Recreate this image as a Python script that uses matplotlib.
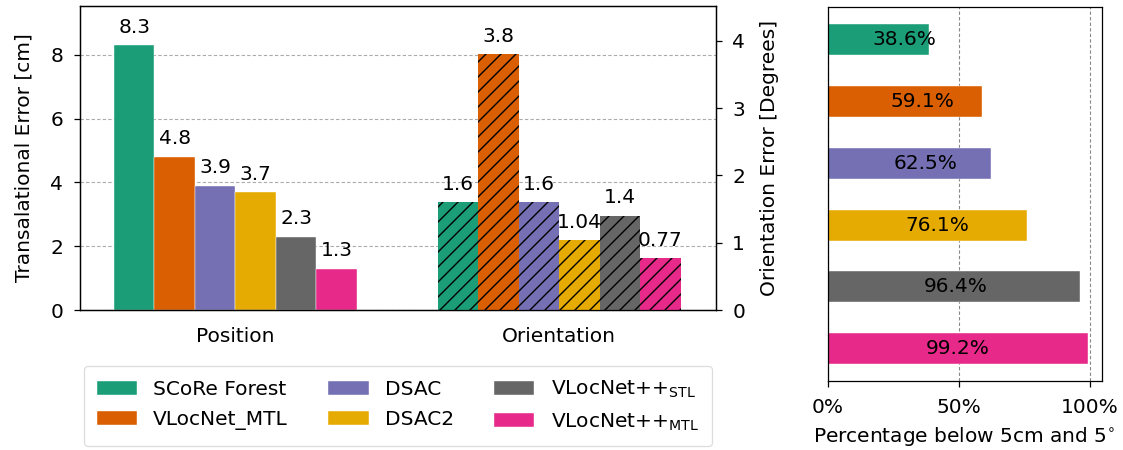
import matplotlib
matplotlib.use("Agg")
import matplotlib.pyplot as plt
import numpy as np

# dpi 90 para que el rayado '//' quede con el espaciado correcto
DPI = 90
P = 100.0 / DPI   # factor para expresar tamaños como si fuera dpi 100

plt.rcParams['font.family'] = ['DejaVu Sans']
plt.rcParams['mathtext.fontset'] = 'dejavusans'
plt.rcParams['hatch.linewidth'] = 1.0 * P

# metodos y colores (Dark2)
methods = ['SCoRe Forest', 'VLocNet_MTL', 'DSAC', 'DSAC2',
           r'VLocNet++$_{\mathrm{STL}}$', r'VLocNet++$_{\mathrm{MTL}}$']
colors = ['#1b9e77', '#d95f02', '#7570b3', '#e6ab02', '#666666', '#e7298a']

groups = ['Position', 'Orientation']
pos_err = [8.3, 4.8, 3.9, 3.7, 2.3, 1.3]          # cm
ori_err = [1.6, 3.8, 1.6, 1.04, 1.4, 0.77]        # grados
pos_labels = ['8.3', '4.8', '3.9', '3.7', '2.3', '1.3']
ori_labels = ['1.6', '3.8', '1.6', '1.04', '1.4', '0.77']

pct_below = [38.6, 59.1, 62.5, 76.1, 96.4, 99.2]  # % por debajo de 5cm y 5 grados

fs = 14.5 * P
plt.rcParams['xtick.major.size'] = 4.5 * P
plt.rcParams['ytick.major.size'] = 4.5 * P
plt.rcParams['xtick.major.pad'] = 7.5 * P
plt.rcParams['ytick.major.pad'] = 7.5 * P
plt.rcParams['axes.linewidth'] = 0.9 * P
plt.rcParams['xtick.major.width'] = 0.9 * P
plt.rcParams['ytick.major.width'] = 0.9 * P

fig = plt.figure(figsize=(1123 / DPI, 450 / DPI), dpi=DPI)

# --- errores medianos ---
ax = fig.add_axes([0.0712, 0.311, 0.566, 0.676])
ax2 = ax.twinx()
w = 0.125
offs = (np.arange(len(methods)) - 2.5) * w

for i in range(len(methods)):
    ax.bar(0 + offs[i], pos_err[i], w, color=colors[i], label=methods[i],
           edgecolor='white', linewidth=0.3 * P)
    ax2.bar(1 + offs[i], ori_err[i], w, color=colors[i], hatch='//',
            edgecolor='black', linewidth=0)
    ax.annotate(pos_labels[i], (0 + offs[i], pos_err[i]), xytext=(0, 6 * P),
                textcoords='offset points', ha='center', va='bottom', fontsize=fs)
    ax2.annotate(ori_labels[i], (1 + offs[i], ori_err[i]), xytext=(0, 6 * P),
                 textcoords='offset points', ha='center', va='bottom', fontsize=fs)

ax.set_xlim(-0.48, 1.483)
ax.set_ylim(0, 9.53)
ax2.set_ylim(0, 4.52)
ax.set_xticks([0, 1])
ax.set_xticklabels(groups, fontsize=fs)
ax.tick_params(axis='x', length=0, pad=12 * P)
ax.set_yticks([0, 2, 4, 6, 8])
ax2.set_yticks([0, 1, 2, 3, 4])
ax.tick_params(axis='y', labelsize=fs)
ax2.tick_params(axis='y', labelsize=fs)
ax.yaxis.grid(True, linestyle='--', color='#aaaaaa', linewidth=0.8 * P,
              dashes=(3, 2))
ax.set_axisbelow(True)
ax.set_ylabel('Transalational Error [cm]', fontsize=fs, labelpad=12 * P)
ax2.set_ylabel('Orientation Error [Degrees]', fontsize=fs, labelpad=11 * P)

ax.legend(loc='upper center', bbox_to_anchor=(0.5, -0.184), borderaxespad=0,
          ncol=3, fontsize=fs, handlelength=2.0, handleheight=0.7,
          columnspacing=2.0, borderpad=0.65, labelspacing=0.55,
          handletextpad=0.8, framealpha=1, edgecolor='#dddddd')

# --- porcentaje por debajo del umbral ---
ax3 = fig.add_axes([0.737, 0.153, 0.244, 0.831])
ypos = np.arange(len(methods))
ax3.barh(ypos, pct_below, height=0.5, color=colors, edgecolor='white',
         linewidth=0.3 * P)
for i, v in enumerate(pct_below):
    ax3.text(16 + 0.34 * v, ypos[i], '%.1f%%' % v, ha='center', va='center',
             fontsize=fs)
ax3.invert_yaxis()
ax3.set_yticks([])
ax3.set_xlim(0, 104.6)
ax3.set_xticks([0, 50, 100])
ax3.set_xticklabels(['0%', '50%', '100%'], fontsize=fs)
ax3.xaxis.grid(True, linestyle='--', color='#888888', linewidth=0.8 * P,
               dashes=(3, 2))
ax3.set_axisbelow(True)
ax3.set_xlabel(r'Percentage below 5cm and 5$^{\circ}$', fontsize=fs,
               labelpad=6 * P)

fig.savefig('out.png', dpi=DPI)
